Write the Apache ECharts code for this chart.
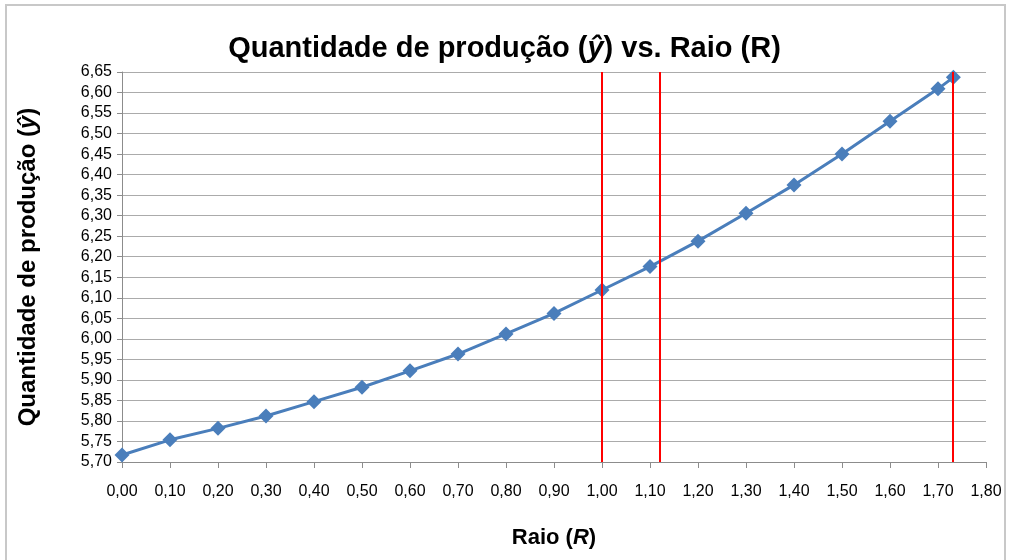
<!DOCTYPE html>
<html>
<head>
<meta charset="utf-8">
<script src="https://cdn.jsdelivr.net/npm/echarts@6/dist/echarts.min.js"></script>
<style>
html,body{margin:0;padding:0;background:#fff;}
#c{width:1009px;height:560px;}
</style>
</head>
<body>
<div id="c"></div>
<script>
// Data
var raio = [0.00, 0.10, 0.20, 0.30, 0.40, 0.50, 0.60, 0.70, 0.80, 0.90, 1.00, 1.10, 1.20, 1.30, 1.40, 1.50, 1.60, 1.70, 1.732];
var quantidade = [5.717, 5.754, 5.782, 5.812, 5.847, 5.882, 5.922, 5.963, 6.012, 6.062, 6.119, 6.176, 6.238, 6.306, 6.375, 6.450, 6.530, 6.609, 6.637];
var referenceLines = [1.00, 1.118, 1.732];
var titleText = 'Quantidade de produção (ŷ) vs. Raio (R)';
var yAxisTitle = 'Quantidade de produção (ŷ)';
var xAxisTitle = 'Raio (R)';

var chart = echarts.init(document.getElementById('c'));
var points = raio.map(function (x, i) { return [x, quantidade[i]]; });
var fmt = function (v) { return v.toFixed(2).replace('.', ','); };
var tickFont = 'Liberation Sans, Arial, sans-serif';
var titleFont = '"Liberation Sans", Arial, sans-serif';

chart.setOption({
  backgroundColor: '#ffffff',
  animation: false,
  graphic: [{
    type: 'polyline',
    shape: { points: [[6, 560], [6, 5], [1005, 5], [1005, 560]] },
    style: { stroke: '#c8c8c8', lineWidth: 2, fill: null },
    silent: true
  }],
  title: {
    text: '{a|Quantidade de produção (}{b|ŷ}{a|) vs. Raio (R)}',
    left: 'center',
    top: 29,
    textStyle: {
      rich: {
        a: { fontFamily: titleFont, fontWeight: 'bold', fontSize: 29, color: '#000' },
        b: { fontFamily: titleFont, fontWeight: 'bold', fontStyle: 'italic', fontSize: 29, color: '#000' }
      }
    }
  },
  grid: { left: 122, right: 23, top: 72, bottom: 98, containLabel: false },
  xAxis: {
    type: 'value',
    min: 0, max: 1.8, interval: 0.1,
    name: '{a|Raio (}{b|R}{a|)}',
    nameLocation: 'middle',
    nameGap: 65,
    nameTextStyle: {
      rich: {
        a: { fontFamily: titleFont, fontWeight: 'bold', fontSize: 22, color: '#000' },
        b: { fontFamily: titleFont, fontWeight: 'bold', fontStyle: 'italic', fontSize: 22, color: '#000' }
      }
    },
    axisLine: { show: true, lineStyle: { color: '#8c8c8c', width: 1 } },
    axisTick: { show: true, length: 6, lineStyle: { color: '#8c8c8c' } },
    axisLabel: { formatter: fmt, fontFamily: tickFont, fontSize: 16, color: '#000', margin: 22 },
    splitLine: { show: false }
  },
  yAxis: {
    type: 'value',
    min: 5.70, max: 6.65, interval: 0.05,
    name: '{a|Quantidade de produção (}{b|ŷ}{a|)}',
    nameLocation: 'middle',
    nameGap: 82,
    nameRotate: 90,
    nameTextStyle: {
      rich: {
        a: { fontFamily: titleFont, fontWeight: 'bold', fontSize: 24, color: '#000' },
        b: { fontFamily: titleFont, fontWeight: 'bold', fontStyle: 'italic', fontSize: 24, color: '#000' }
      }
    },
    axisLine: { show: true, lineStyle: { color: '#8c8c8c', width: 1 } },
    axisTick: { show: true, length: 5, lineStyle: { color: '#8c8c8c' } },
    axisLabel: { formatter: fmt, fontFamily: tickFont, fontSize: 16, color: '#000', margin: 10 },
    splitLine: { show: true, lineStyle: { color: '#ababab', width: 1 } }
  },
  series: [{
    type: 'line',
    data: points,
    symbol: 'diamond',
    symbolSize: 15,
    lineStyle: { color: '#4a7ebb', width: 3 },
    itemStyle: { color: '#4a7ebb' },
    z: 3,
    markLine: {
      silent: true,
      symbol: ['none', 'none'],
      label: { show: false },
      lineStyle: { color: '#ff0000', width: 2, type: 'solid' },
      data: referenceLines.map(function (v) { return { xAxis: v }; }),
      z: 4
    }
  }]
});
</script>
</body>
</html>
